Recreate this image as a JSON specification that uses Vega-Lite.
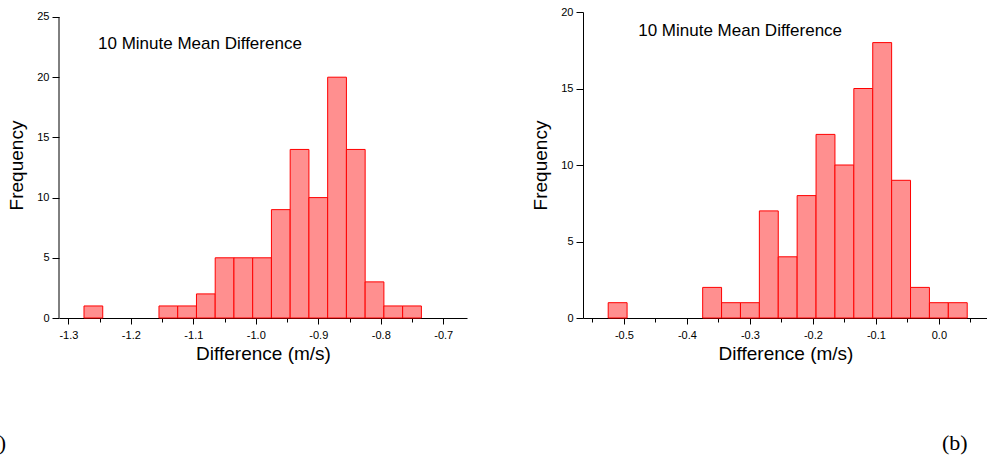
{
  "$schema": "https://vega.github.io/schema/vega-lite/v6.json",
  "autosize": {"type": "pad"},
  "padding": {"left": -19, "top": 6, "right": 0, "bottom": 0},
  "background": "white",
  "spacing": 116,
  "bounds": "flush",
  "config": {
    "view": {"stroke": null},
    "axis": {
      "grid": false, "domainColor": "#000", "tickColor": "#000", "labelColor": "#000", "titleColor": "#000",
      "labelFont": "Liberation Sans", "titleFont": "Liberation Sans", "labelFontSize": 11, "titleFontSize": 19,
      "titleFontWeight": "normal", "labelOverlap": false, "labelFlush": false, "domainWidth": 1, "tickWidth": 1
    },
    "text": {"font": "Liberation Sans", "color": "#000"}
  },
  "hconcat": [
    {
      "width": 408,
      "height": 306,
      "data": {"values": [
        {"bin_start": -1.275, "bin_end": -1.245, "count": 1},
        {"bin_start": -1.155, "bin_end": -1.125, "count": 1},
        {"bin_start": -1.125, "bin_end": -1.095, "count": 1},
        {"bin_start": -1.095, "bin_end": -1.065, "count": 2},
        {"bin_start": -1.065, "bin_end": -1.035, "count": 5},
        {"bin_start": -1.035, "bin_end": -1.005, "count": 5},
        {"bin_start": -1.005, "bin_end": -0.975, "count": 5},
        {"bin_start": -0.975, "bin_end": -0.945, "count": 9},
        {"bin_start": -0.945, "bin_end": -0.915, "count": 14},
        {"bin_start": -0.915, "bin_end": -0.885, "count": 10},
        {"bin_start": -0.885, "bin_end": -0.855, "count": 20},
        {"bin_start": -0.855, "bin_end": -0.825, "count": 14},
        {"bin_start": -0.825, "bin_end": -0.795, "count": 3},
        {"bin_start": -0.795, "bin_end": -0.765, "count": 1},
        {"bin_start": -0.765, "bin_end": -0.735, "count": 1}
      ]},
      "resolve": {"axis": {"x": "independent"}},
      "layer": [
        {
          "mark": {"type": "rect", "fill": "#ff8f8f", "stroke": "#ff0000", "strokeWidth": 1},
          "encoding": {
            "x": {
              "field": "bin_start", "type": "quantitative", "title": "Difference (m/s)",
              "scale": {"domain": [-1.315, -0.662], "nice": false, "zero": false},
              "axis": {
                "orient": "bottom",
                "values": [-1.3, -1.2, -1.1, -1.0, -0.9, -0.8, -0.7],
                "format": ".1f",
                "labelExpr": "replace(datum.label, '\u2212', '-')",
                "tickSize": 6, "labelPadding": 5, "titlePadding": 4
              }
            },
            "x2": {"field": "bin_end"},
            "y": {
              "field": "count", "type": "quantitative", "title": "Frequency",
              "scale": {"domain": [0, 25.415], "nice": false},
              "axis": {
                "values": [0, 2.5, 5, 7.5, 10, 12.5, 15, 17.5, 20, 22.5, 25],
                "labelExpr": "datum.value % 5 === 0 ? datum.label : ''",
                "tickSize": {"condition": {"test": "datum.value % 5 === 0", "value": 7}, "value": 4},
                "labelPadding": 3, "titlePadding": 10, "domain": false
              }
            }
          }
        },
        {
          "data": {"values": [{}]},
          "mark": {"type": "rule", "color": "#000", "strokeWidth": 1},
          "encoding": {
            "x": {
              "datum": -1.315,
              "axis": {
                "orient": "bottom",
                "values": [-1.25, -1.15, -1.05, -0.95, -0.85, -0.75],
                "labels": false, "domain": false, "tickSize": 4, "title": null
              }
            },
            "y": {"datum": 0},
            "y2": {"datum": 25}
          }
        },
        {
          "data": {"values": [{"label": "10 Minute Mean Difference"}]},
          "mark": {"type": "text", "align": "left", "baseline": "middle", "fontSize": 17},
          "encoding": {"x": {"datum": -1.2525, "axis": null}, "y": {"datum": 22.76}, "text": {"field": "label"}}
        },
        {
          "data": {"values": [{"label": "(a)"}]},
          "mark": {"type": "text", "align": "right", "baseline": "middle", "fontSize": 22, "font": "Liberation Serif"},
          "encoding": {"x": {"datum": -1.3998, "axis": null}, "y": {"datum": -10.38}, "text": {"field": "label"}}
        }
      ]
    },
    {
      "width": 405,
      "height": 306,
      "data": {"values": [
        {"bin_start": -0.525, "bin_end": -0.495, "count": 1},
        {"bin_start": -0.375, "bin_end": -0.345, "count": 2},
        {"bin_start": -0.345, "bin_end": -0.315, "count": 1},
        {"bin_start": -0.315, "bin_end": -0.285, "count": 1},
        {"bin_start": -0.285, "bin_end": -0.255, "count": 7},
        {"bin_start": -0.255, "bin_end": -0.225, "count": 4},
        {"bin_start": -0.225, "bin_end": -0.195, "count": 8},
        {"bin_start": -0.195, "bin_end": -0.165, "count": 12},
        {"bin_start": -0.165, "bin_end": -0.135, "count": 10},
        {"bin_start": -0.135, "bin_end": -0.105, "count": 15},
        {"bin_start": -0.105, "bin_end": -0.075, "count": 18},
        {"bin_start": -0.075, "bin_end": -0.045, "count": 9},
        {"bin_start": -0.045, "bin_end": -0.015, "count": 2},
        {"bin_start": -0.015, "bin_end": 0.015, "count": 1},
        {"bin_start": 0.015, "bin_end": 0.045, "count": 1}
      ]},
      "resolve": {"axis": {"x": "independent"}},
      "layer": [
        {
          "mark": {"type": "rect", "fill": "#ff8f8f", "stroke": "#ff0000", "strokeWidth": 1},
          "encoding": {
            "x": {
              "field": "bin_start", "type": "quantitative", "title": "Difference (m/s)",
              "scale": {"domain": [-0.565, 0.078], "nice": false, "zero": false},
              "axis": {
                "orient": "bottom",
                "values": [-0.5, -0.4, -0.3, -0.2, -0.1, 0],
                "format": ".1f",
                "labelExpr": "replace(datum.label, '\u2212', '-')",
                "tickSize": 6, "labelPadding": 5, "titlePadding": 4
              }
            },
            "x2": {"field": "bin_end"},
            "y": {
              "field": "count", "type": "quantitative", "title": "Frequency",
              "scale": {"domain": [0, 20], "nice": false},
              "axis": {
                "values": [0, 2.5, 5, 7.5, 10, 12.5, 15, 17.5, 20],
                "labelExpr": "datum.value % 5 === 0 ? datum.label : ''",
                "tickSize": {"condition": {"test": "datum.value % 5 === 0", "value": 7}, "value": 4},
                "labelPadding": 3, "titlePadding": 10
              }
            }
          }
        },
        {
          "data": {"values": [{}]},
          "mark": {"type": "rule", "opacity": 0},
          "encoding": {
            "x": {
              "datum": -0.55,
              "axis": {
                "orient": "bottom",
                "values": [-0.55, -0.45, -0.35, -0.25, -0.15, -0.05, 0.05],
                "labels": false, "domain": false, "tickSize": 4, "title": null
              }
            },
            "y": {"datum": 0},
            "y2": {"datum": 0}
          }
        },
        {
          "data": {"values": [{"label": "10 Minute Mean Difference"}]},
          "mark": {"type": "text", "align": "left", "baseline": "middle", "fontSize": 17},
          "encoding": {"x": {"datum": -0.4773, "axis": null}, "y": {"datum": 18.76}, "text": {"field": "label"}}
        },
        {
          "data": {"values": [{"label": "(b)"}]},
          "mark": {"type": "text", "align": "center", "baseline": "middle", "fontSize": 22, "font": "Liberation Serif"},
          "encoding": {"x": {"datum": 0.0252, "axis": null}, "y": {"datum": -8.17}, "text": {"field": "label"}}
        }
      ]
    }
  ]
}
